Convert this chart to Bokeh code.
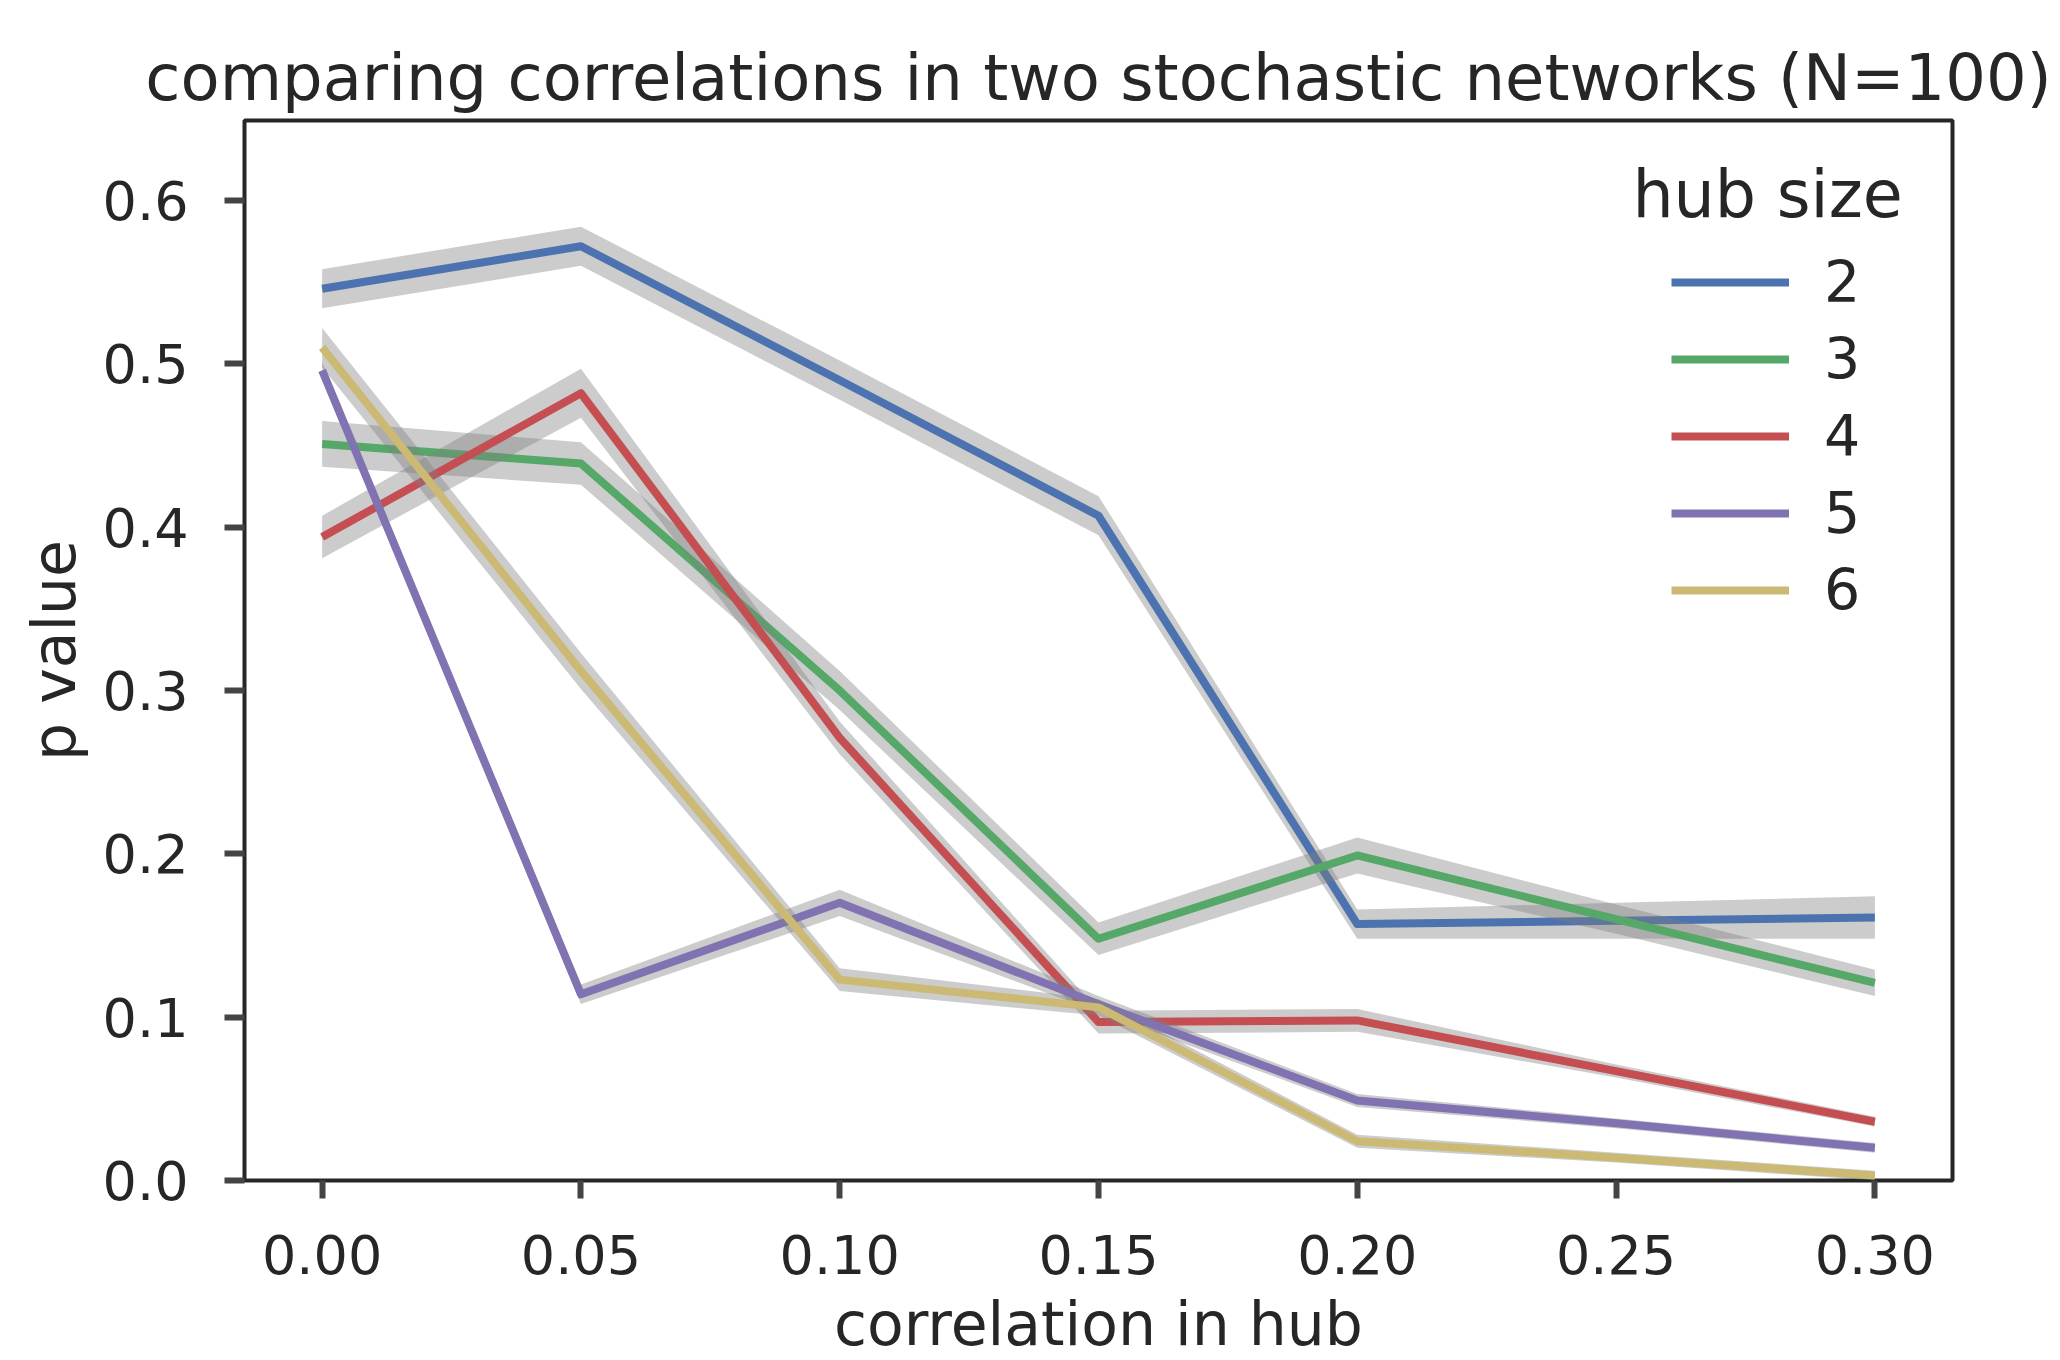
from bokeh.plotting import figure
from bokeh.models import Range1d, FixedTicker, Legend, LegendItem, Label, NumeralTickFormatter
from bokeh.embed import file_html
from bokeh.resources import INLINE

# ---- data ----
correlation = [0.00, 0.05, 0.10, 0.15, 0.20, 0.25, 0.30]
hub_sizes = ["2", "3", "4", "5", "6"]

p_hub2 = [0.546, 0.572, 0.490, 0.407, 0.157, 0.159, 0.161]
p_hub3 = [0.451, 0.439, 0.300, 0.148, 0.199, 0.160, 0.121]
p_hub4 = [0.394, 0.482, 0.271, 0.097, 0.098, 0.067, 0.036]
p_hub5 = [0.496, 0.114, 0.170, 0.108, 0.049, 0.035, 0.020]
p_hub6 = [0.510, 0.312, 0.123, 0.106, 0.024, 0.014, 0.003]

# half-width of the confidence band
ci_hub2 = [0.012, 0.012, 0.012, 0.012, 0.009, 0.011, 0.013]
ci_hub3 = [0.014, 0.013, 0.012, 0.010, 0.011, 0.009, 0.008]
ci_hub4 = [0.013, 0.015, 0.010, 0.007, 0.007, 0.004, 0.003]
ci_hub5 = [0.005, 0.006, 0.008, 0.005, 0.004, 0.003, 0.003]
ci_hub6 = [0.012, 0.011, 0.007, 0.005, 0.004, 0.003, 0.003]

x_ticks = [0.00, 0.05, 0.10, 0.15, 0.20, 0.25, 0.30]
y_ticks = [0.0, 0.1, 0.2, 0.3, 0.4, 0.5, 0.6]

title_text = "comparing correlations in two stochastic networks (N=100)"
x_label = "correlation in hub"
y_label = "p value"
legend_title = "hub size"

series = [p_hub2, p_hub3, p_hub4, p_hub5, p_hub6]
cis = [ci_hub2, ci_hub3, ci_hub4, ci_hub5, ci_hub6]
colors = ["#4C72B0", "#55A868", "#C44E52", "#8172B2", "#CCB974"]

FONT = "DejaVu Sans"
TXT = "#262626"

x0, x1 = -0.015, 0.315
y0, y1 = 0.0, 0.649

p = figure(
    frame_width=1708, frame_height=1060,
    x_range=Range1d(x0, x1), y_range=Range1d(y0, y1),
    output_backend="svg", toolbar_location=None,
    min_border_left=244, min_border_top=120, min_border_right=108, min_border_bottom=0,
    title=title_text,
)
p.background_fill_color = "white"
p.border_fill_color = "white"
p.outline_line_color = TXT
p.outline_line_width = 4
p.outline_line_alpha = 1.0
p.xgrid.visible = False
p.ygrid.visible = False

p.title.text_font = FONT
p.title.text_font_size = "64px"
p.title.text_font_style = "normal"
p.title.text_color = TXT
p.title.align = "center"
p.title.standoff = 12

for ax in (p.xaxis, p.yaxis):
    ax.axis_line_color = None
    ax.major_tick_in = 0
    ax.major_tick_line_width = 6
    ax.major_tick_line_color = "#444444"
    ax.minor_tick_line_color = None
    ax.major_label_text_font = FONT
    ax.major_label_text_font_size = "54px"
    ax.major_label_text_color = TXT
    ax.axis_label_text_font = FONT
    ax.axis_label_text_font_size = "60px"
    ax.axis_label_text_font_style = "normal"
    ax.axis_label_text_color = TXT

p.xaxis.ticker = FixedTicker(ticks=x_ticks)
p.xaxis.formatter = NumeralTickFormatter(format="0.00")
p.xaxis.major_tick_out = 18
p.xaxis.major_label_standoff = 36
p.xaxis.axis_label = x_label
p.xaxis.axis_label_standoff = 12

p.yaxis.ticker = FixedTicker(ticks=y_ticks)
p.yaxis.formatter = NumeralTickFormatter(format="0.0")
p.yaxis.major_tick_out = 20
p.yaxis.major_label_standoff = 36
p.yaxis.axis_label = y_label
p.yaxis.axis_label_standoff = 11

items = []
for label, vals, ci, col in zip(hub_sizes, series, cis, colors):
    lo = [v - c for v, c in zip(vals, ci)]
    hi = [v + c for v, c in zip(vals, ci)]
    p.varea(x=correlation, y1=lo, y2=hi, fill_color="#808080", fill_alpha=0.4)
    r = p.line(correlation, vals, line_color=col, line_width=8, line_join="round")
    items.append(LegendItem(label=label, renderers=[r]))

legend = Legend(
    items=items, location=(1427, 556), orientation="vertical",
    glyph_width=118, glyph_height=68, label_height=68, spacing=9,
    padding=0, margin=0, label_standoff=35,
    label_text_font=FONT, label_text_font_size="57px", label_text_color=TXT,
    border_line_color=None, background_fill_alpha=0,
)
p.add_layout(legend)

# legend title placed relative to the axis ranges
p.add_layout(Label(
    x=x0 + (x1 - x0) * 0.8126, y=y0 + (y1 - y0) * 0.9300,
    text=legend_title, text_font=FONT, text_font_size="65px",
    text_color=TXT, text_align="left", text_baseline="alphabetic",
))

open("out.html", "w").write(file_html(p, INLINE))
